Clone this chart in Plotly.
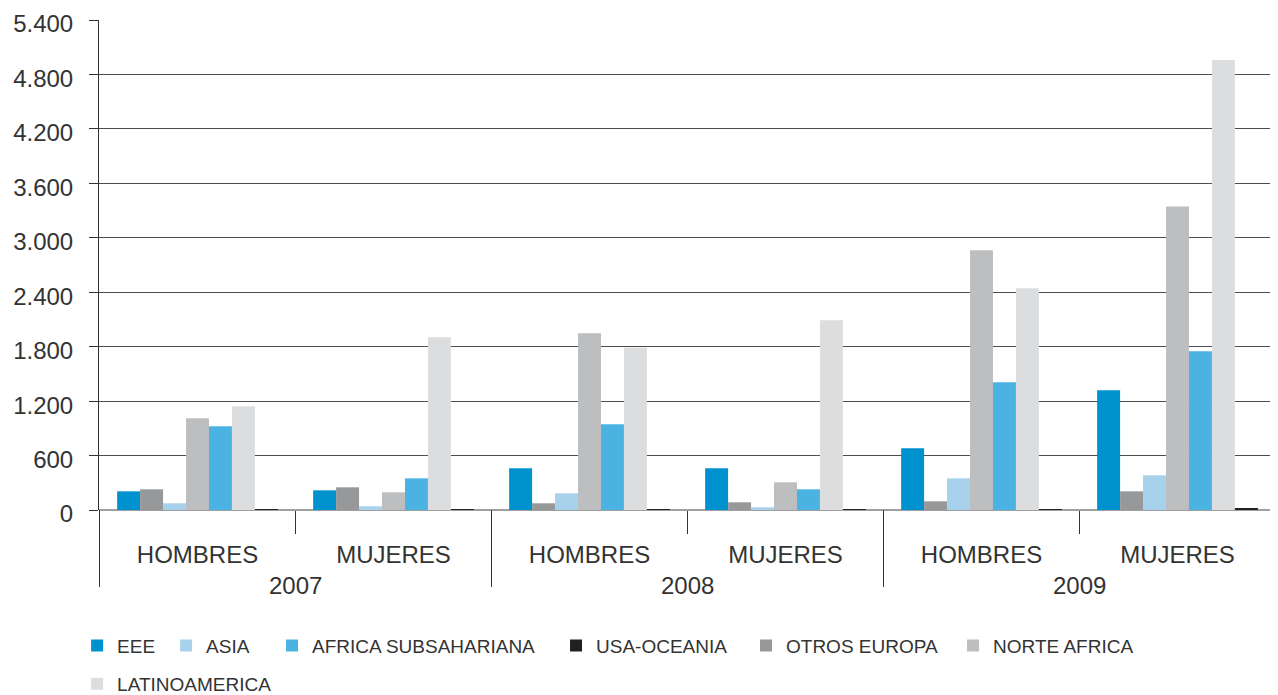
import plotly.graph_objects as go

years = ["2007", "2007", "2008", "2008", "2009", "2009"]
sexes = ["HOMBRES", "MUJERES", "HOMBRES", "MUJERES", "HOMBRES", "MUJERES"]
categories = [f"{y} {s}" for y, s in zip(years, sexes)]

# bar order inside each group (left to right)
series_names = ["EEE", "OTROS EUROPA", "ASIA", "NORTE AFRICA",
                "AFRICA SUBSAHARIANA", "LATINOAMERICA", "USA-OCEANIA"]
eee = [206, 217, 460, 460, 680, 1320]
otros_europa = [228, 250, 74, 85, 96, 206]
asia = [74, 41, 184, 30, 349, 382]
norte_africa = [1011, 195, 1948, 305, 2863, 3346]
africa_sub = [923, 349, 945, 228, 1408, 1750]
latinoamerica = [1143, 1904, 1790, 2091, 2444, 4958]
usa_oceania = [8, 8, 8, 8, 8, 19]

colors = {
    "EEE": "#0092CE",
    "ASIA": "#A8D2EB",
    "AFRICA SUBSAHARIANA": "#4BB3E1",
    "USA-OCEANIA": "#231F20",
    "OTROS EUROPA": "#97989A",
    "NORTE AFRICA": "#BDBEC0",
    "LATINOAMERICA": "#DCDDDE",
}
values = {
    "EEE": eee, "OTROS EUROPA": otros_europa, "ASIA": asia,
    "NORTE AFRICA": norte_africa, "AFRICA SUBSAHARIANA": africa_sub,
    "LATINOAMERICA": latinoamerica, "USA-OCEANIA": usa_oceania,
}

# legend placement (paper coords): one legend box per entry
legend_pos = {
    "EEE": ("legend", -0.0186, -0.2383),
    "ASIA": ("legend2", 0.0570, -0.2383),
    "AFRICA SUBSAHARIANA": ("legend3", 0.1470, -0.2383),
    "USA-OCEANIA": ("legend4", 0.3883, -0.2383),
    "OTROS EUROPA": ("legend5", 0.5497, -0.2383),
    "NORTE AFRICA": ("legend6", 0.7256, -0.2383),
    "LATINOAMERICA": ("legend7", -0.0186, -0.3163),
}

font_family = "Liberation Sans, Arial, sans-serif"
text_color = "#333333"
line_color = "#333333"

fig = go.Figure()
for name in series_names:
    fig.add_trace(go.Bar(
        x=categories, y=values[name], name=name,
        marker=dict(color=colors[name], line=dict(width=0)),
        legend=legend_pos[name][0],
    ))

legend_style = dict(
    orientation="h", xanchor="left", yanchor="top",
    font=dict(size=19, color=text_color, family=font_family),
    itemwidth=30, bgcolor="rgba(0,0,0,0)",
)
layout_legends = {}
for name, (lg, lx, ly) in legend_pos.items():
    layout_legends[lg] = dict(legend_style, x=lx, y=ly)

fig.update_layout(
    width=1270, height=687,
    margin=dict(l=91, r=2, t=12, b=185, autoexpand=False),
    paper_bgcolor="white", plot_bgcolor="white",
    barmode="group", bargap=0.18, bargroupgap=0,
    separators=",.",
    font=dict(family=font_family, color=text_color, size=24),
    showlegend=True,
    **layout_legends,
)
fig.update_yaxes(
    range=[0, 5400], dtick=600, tick0=0, tickformat=",d",
    showgrid=True, gridcolor="#4d4d4d", gridwidth=1,
    zeroline=True, zerolinecolor="#a0a0a0", zerolinewidth=1.5,
    showline=True, linecolor=line_color, linewidth=1,
    ticks="outside", ticklen=9, tickcolor=line_color,
    ticklabelstandoff=11, ticklabelshift=4,
    ticklabeloverflow="allow", automargin=False,
    tickfont=dict(size=24, color=text_color),
)
fig.update_xaxes(
    type="category", categoryorder="array", categoryarray=categories,
    tickvals=categories, ticktext=sexes,
    showline=False, automargin=False,
    ticks="outside", tickson="boundaries", ticklen=23,
    tickcolor=line_color, tickwidth=1,
    ticklabelstandoff=28,
    tickfont=dict(size=24, color=text_color),
)

# year group labels and long group dividers
unique_years = list(dict.fromkeys(years))
for yr in unique_years:
    idx = [i for i, y in enumerate(years) if y == yr]
    fig.add_annotation(x=sum(idx) / len(idx), xref="x", y=-0.155, yref="paper",
                       text=yr, showarrow=False, yanchor="middle",
                       font=dict(size=24, color=text_color))
boundaries = [-0.5] + [i - 0.5 for i in range(1, len(years)) if years[i] != years[i - 1]] + [len(years) - 0.5]
for b in boundaries:
    fig.add_shape(type="line", xref="x", yref="paper", x0=b, x1=b, y0=0, y1=-0.157,
                  line=dict(color=line_color, width=1))

fig.write_html("out.html")
